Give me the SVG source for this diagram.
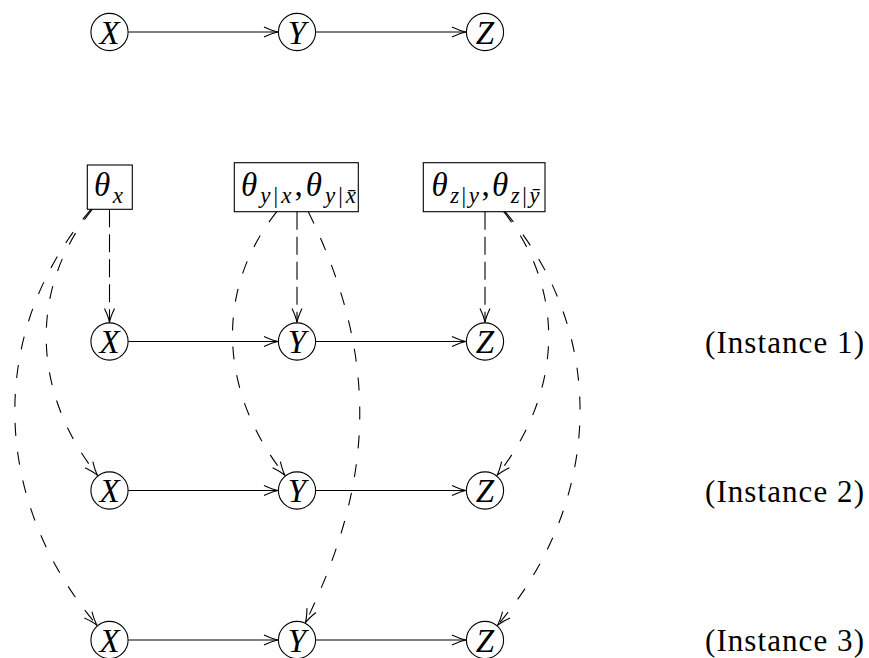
<svg xmlns="http://www.w3.org/2000/svg" width="869" height="658" viewBox="0 0 869 658">
  <style>
    .node { fill: none; stroke: #000; stroke-width: 1.1; }
    .box { fill: none; stroke: #000; stroke-width: 1.1; }
    .var { font-family: "Liberation Serif", "DejaVu Serif", serif; font-style: italic; font-size: 33px; fill: #000; text-anchor: middle; }
    .par { font-family: "Liberation Serif", "DejaVu Serif", serif; font-size: 33px; fill: #000; text-anchor: middle; }
    .par .i { font-style: italic; }
    .par .sub { font-size: 23px; }
    .inst { font-family: "Liberation Serif", "DejaVu Serif", serif; font-size: 31px; fill: #000; }
    .edge { fill: none; stroke: #000; stroke-width: 1.1; marker-end: url(#tip); }
    .dep { fill: none; stroke: #000; stroke-width: 1.1; stroke-dasharray: 18 7; marker-end: url(#tip); }
    .bend { fill: none; stroke: #000; stroke-width: 1.1; stroke-dasharray: 13 16; marker-end: url(#tip); }
  </style>
  <defs>
    <!-- open "to"-style arrow tip, drawn solid even on dashed lines -->
    <marker id="tip" markerUnits="userSpaceOnUse" viewBox="-16 -8 18 16" markerWidth="18" markerHeight="16" refX="0" refY="0" orient="auto" overflow="visible">
      <path d="M-14,-5 C-9,-2.6 -3.5,-0.6 0,0 C-3.5,0.6 -9,2.6 -14,5" fill="none" stroke="#000" stroke-width="1.1" stroke-dasharray="none"/>
    </marker>
  </defs>
  <rect width="869" height="658" fill="#fff"/>

  <!-- connectors -->
  <g id="connectors">
    <!-- causal chain, top -->
    <path class="edge" d="M128.5,32 H278"/>
    <path class="edge" d="M316,32 H466"/>
    <!-- instance rows -->
    <path class="edge" d="M128.5,341.5 H278"/>
    <path class="edge" d="M316,341.5 H466"/>
    <path class="edge" d="M128.5,490.5 H278"/>
    <path class="edge" d="M316,490.5 H466"/>
    <path class="edge" d="M128.5,640 H278"/>
    <path class="edge" d="M316,640 H466"/>
    <!-- parameters to instance 1 -->
    <path class="dep" d="M109.5,209.3 V322.5"/>
    <path class="dep" d="M297,211.7 V322.5"/>
    <path class="dep" d="M485,211.7 V322.5"/>
    <!-- parameters to instances 2 and 3 -->
    <path class="bend" d="M92.2,209.3 C27.3,290.8 32.8,394.1 97.7,475.6"/>
    <path class="bend" d="M91,209.3 C-14.6,333.5 -8.4,501.3 97.2,625.5"/>
    <path class="bend" d="M276.8,211.7 C212.4,292.6 220.8,394.7 285.2,475.6"/>
    <path class="bend" d="M308.3,211.7 C378.9,356.4 375.9,478.2 305.3,622.9"/>
    <path class="bend" d="M503.7,211.7 C568.1,292.6 561.2,394.7 496.8,475.6"/>
    <path class="bend" d="M505.1,211.7 C610.1,335.1 602.3,502.1 497.3,625.5"/>
  </g>

  <!-- causal chain -->
  <g id="chain-X"><circle class="node" cx="109.5" cy="32" r="18.6"/><text class="var" x="109.5" y="43.5">X</text></g>
  <g id="chain-Y"><circle class="node" cx="297" cy="32" r="18.6"/><text class="var" x="297" y="43.5">Y</text></g>
  <g id="chain-Z"><circle class="node" cx="485" cy="32" r="18.6"/><text class="var" x="485" y="43.5">Z</text></g>

  <!-- parameter nodes -->
  <g id="theta-x">
    <rect class="box" x="87.3" y="165" width="45" height="44.3"/>
    <text class="par" x="108.5" y="196" textLength="29" lengthAdjust="spacing"><tspan class="i">θ</tspan><tspan class="sub i" dy="7">x</tspan></text>
  </g>
  <g id="theta-y">
    <rect class="box" x="234.3" y="162.7" width="124" height="49"/>
    <text class="par" x="298.5" y="196" textLength="115" lengthAdjust="spacing"><tspan class="i">θ</tspan><tspan class="sub" dy="7"><tspan class="i">y</tspan>|<tspan class="i">x</tspan></tspan><tspan dy="-7">,</tspan><tspan class="i">θ</tspan><tspan class="sub" dy="7"><tspan class="i">y</tspan>|<tspan class="i">x̄</tspan></tspan></text>
  </g>
  <g id="theta-z">
    <rect class="box" x="423.3" y="162.7" width="121.7" height="49"/>
    <text class="par" x="485.5" y="196" textLength="108" lengthAdjust="spacing"><tspan class="i">θ</tspan><tspan class="sub" dy="7"><tspan class="i">z</tspan>|<tspan class="i">y</tspan></tspan><tspan dy="-7">,</tspan><tspan class="i">θ</tspan><tspan class="sub" dy="7"><tspan class="i">z</tspan>|<tspan class="i">ȳ</tspan></tspan></text>
  </g>

  <!-- instance 1 -->
  <g id="X1"><circle class="node" cx="109.5" cy="341.5" r="18.6"/><text class="var" x="109.5" y="353">X</text></g>
  <g id="Y1"><circle class="node" cx="297" cy="341.5" r="18.6"/><text class="var" x="297" y="353">Y</text></g>
  <g id="Z1"><circle class="node" cx="485" cy="341.5" r="18.6"/><text class="var" x="485" y="353">Z</text></g>
  <!-- instance 2 -->
  <g id="X2"><circle class="node" cx="109.5" cy="490.5" r="18.6"/><text class="var" x="109.5" y="502">X</text></g>
  <g id="Y2"><circle class="node" cx="297" cy="490.5" r="18.6"/><text class="var" x="297" y="502">Y</text></g>
  <g id="Z2"><circle class="node" cx="485" cy="490.5" r="18.6"/><text class="var" x="485" y="502">Z</text></g>
  <!-- instance 3 -->
  <g id="X3"><circle class="node" cx="109.5" cy="640" r="18.6"/><text class="var" x="109.5" y="651.5">X</text></g>
  <g id="Y3"><circle class="node" cx="297" cy="640" r="18.6"/><text class="var" x="297" y="651.5">Y</text></g>
  <g id="Z3"><circle class="node" cx="485" cy="640" r="18.6"/><text class="var" x="485" y="651.5">Z</text></g>

  <!-- row labels -->
  <g id="labels">
    <text class="inst" x="705" y="352.5" textLength="159" lengthAdjust="spacing">(Instance 1)</text>
    <text class="inst" x="705" y="501.5" textLength="159" lengthAdjust="spacing">(Instance 2)</text>
    <text class="inst" x="705" y="651" textLength="159" lengthAdjust="spacing">(Instance 3)</text>
  </g>
</svg>
